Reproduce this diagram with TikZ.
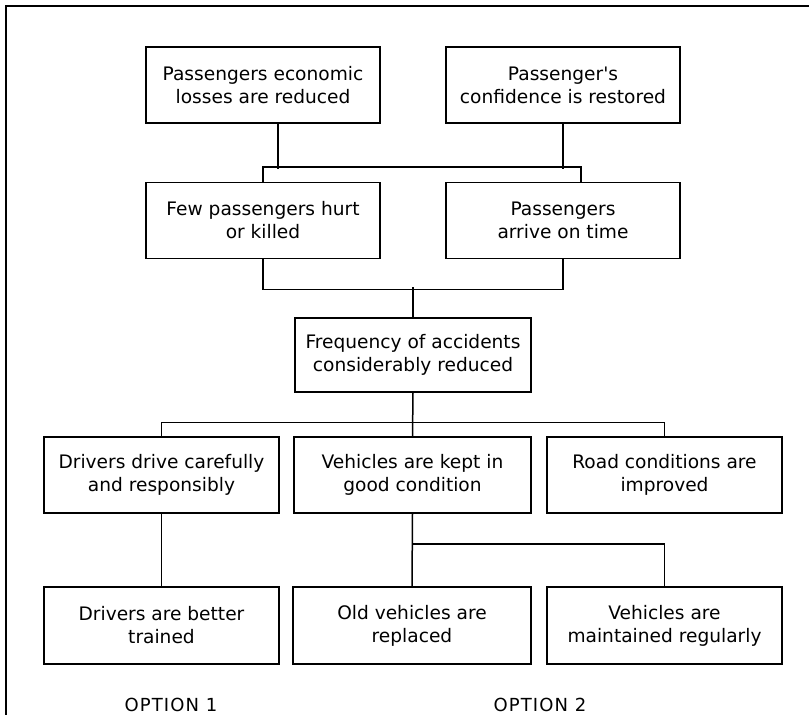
\documentclass[tikz,border=0pt]{standalone}
\usepackage{fontspec}
\setmainfont{DejaVu Sans}
\begin{document}
\begin{tikzpicture}[x=1pt,y=-1pt,
  goalbox/.style={draw, line width=1.5pt, minimum width=234pt, minimum height=76pt,
    inner sep=0pt, align=center, font=\fontsize{18.6}{23}\selectfont},
  link/.style={line width=1.5pt},
  frame/.style={line width=2.2pt},
  optlabel/.style={inner sep=0pt, anchor=base, font=\fontsize{18}{22}\selectfont\addfontfeature{LetterSpace=6}}]
\useasboundingbox (0,0) rectangle (809,715);

% outer frame (top and left edges)
\coordinate (fr) at (809,6);
\coordinate (fc) at (6,6);
\coordinate (fb) at (6,715);
\draw[frame] (fr) -- (fc) -- (fb);

% top row
\node[goalbox] (A) at (263,85) {Passengers economic\\losses are reduced};
\node[goalbox] (B) at (563,85) {Passenger\textquotesingle s\\confidence is restored};
% second row
\node[goalbox] (C) at (263,220.5) {Few passengers hurt\\or killed};
\node[goalbox] (D) at (563,220.5) {Passengers\\arrive on time};
% centre
\node[goalbox, minimum width=236pt, minimum height=74pt] (E) at (413,355) {Frequency of accidents\\considerably reduced};
% third row
\node[goalbox, minimum width=235pt] (F) at (161.5,475) {Drivers drive carefully\\and responsibly};
\node[goalbox, minimum width=237pt] (G) at (412.5,475) {Vehicles are kept in\\good condition};
\node[goalbox, minimum width=235pt] (H) at (664.5,475) {Road conditions are\\improved};
% bottom row
\node[goalbox, minimum width=235pt, minimum height=77pt] (I) at (161.5,625.5) {Drivers are better\\trained};
\node[goalbox, minimum width=238pt, minimum height=77pt] (J) at (412,625.5) {Old vehicles are\\replaced};
\node[goalbox, minimum width=235pt, minimum height=77pt] (K) at (664.5,625.5) {Vehicles are\\maintained regularly};

% option labels
\node[optlabel] (o1) at (171,711) {OPTION 1};
\node[optlabel] (o2) at (540,711) {OPTION 2};

% connectors between top two rows
\draw[link] (C.north) -- ++(0,-15) -| ([xshift=18pt]D.north);
\draw[link] ([xshift=15pt]A.south) -- ++(0,45);
\draw[link] (B.south) -- ++(0,45);
% second row to centre
\draw[link] (C.south) -- ++(0,30) -| (D.south);
\draw[link] (E.north) -- ++(0,-30);
% centre to third row
\draw[link] (F.north) -- ++(0,-14) -| (H.north);
\draw[link] (E.south) -- (G.north);
% third row to bottom row
\draw[link] (F.south) -- (I.north);
\draw[link] (G.south) -- (J.north);
\draw[link] (G.south) ++(0,30) -| (K.north);
\end{tikzpicture}
\end{document}
